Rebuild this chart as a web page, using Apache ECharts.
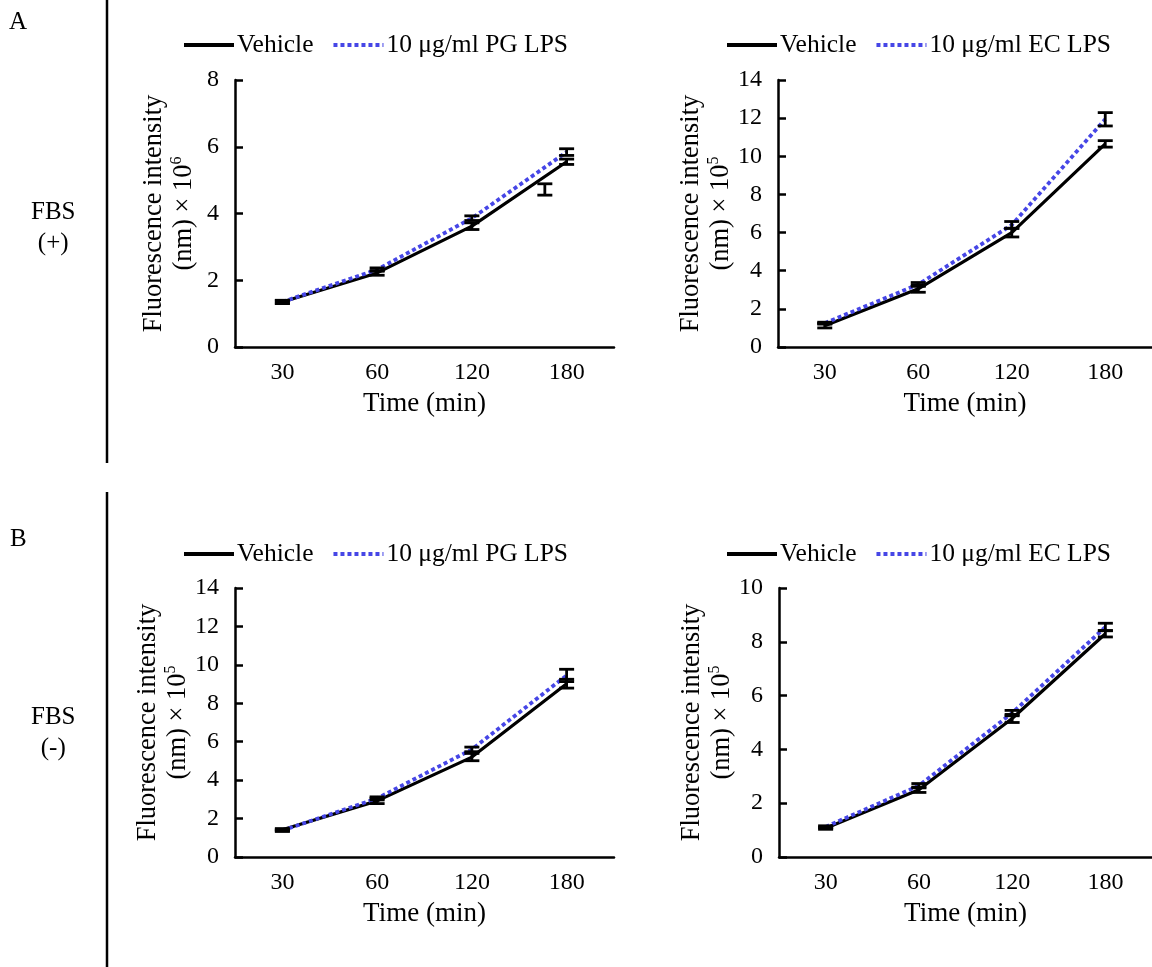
<!DOCTYPE html>
<html>
<head>
<meta charset="utf-8">
<script src="https://cdn.jsdelivr.net/npm/echarts@6/dist/echarts.min.js"></script>
<style>
html,body{margin:0;padding:0;background:#fff;}
#main{width:1152px;height:967px;}
</style>
</head>
<body>
<div id="main"></div>
<script>
// ---- data ----
const categories = ['30', '60', '120', '180'];

// Panel A left: FBS(+), PG LPS, x10^6
const aLeftVehicle = [1.35, 2.22, 3.62, 5.55];
const aLeftVehicleErr = [0.05, 0.07, 0.1, 0.08];
const aLeftPG = [1.35, 2.32, 3.86, 5.84];
const aLeftPGErr = [0.04, 0.05, 0.07, 0.1];
// stray error bar drawn between 120 and 180 in panel A left
const aLeftStray = [{ from: 2, to: 3, frac: 0.77, value: 4.72, err: 0.17 }];

// Panel A right: FBS(+), EC LPS, x10^5
const aRightVehicle = [1.12, 3.05, 6.0, 10.65];
const aRightVehicleErr = [0.12, 0.18, 0.23, 0.17];
const aRightEC = [1.25, 3.28, 6.4, 11.94];
const aRightECErr = [0.05, 0.1, 0.18, 0.35];

// Panel B left: FBS(-), PG LPS, x10^5
const bLeftVehicle = [1.42, 2.92, 5.2, 9.02];
const bLeftVehicleErr = [0.06, 0.14, 0.19, 0.23];
const bLeftPG = [1.38, 3.05, 5.6, 9.45];
const bLeftPGErr = [0.05, 0.08, 0.12, 0.32];

// Panel B right: FBS(-), EC LPS, x10^5
const bRightVehicle = [1.07, 2.5, 5.15, 8.3];
const bRightVehicleErr = [0.04, 0.1, 0.15, 0.12];
const bRightEC = [1.12, 2.65, 5.35, 8.55];
const bRightECErr = [0.04, 0.08, 0.1, 0.14];

const yMax = [8, 14, 14, 10];
const yInterval = [2, 2, 2, 2];
const yExp = ['6', '5', '5', '5'];
const lpsNames = ['10 μg/ml PG LPS', '10 μg/ml EC LPS', '10 μg/ml PG LPS', '10 μg/ml EC LPS'];

// ---- layout ----
const FONT = '"Liberation Serif", "Times New Roman", serif';
const BLUE = '#4646e6';
const grids = [
  { left: 235, top: 80, width: 379, height: 267 },
  { left: 778, top: 80, width: 374, height: 267 },
  { left: 235, top: 588, width: 379, height: 269 },
  { left: 779, top: 588, width: 373, height: 269 }
];
const legendPos = [
  { left: 182, top: 32 },
  { left: 725, top: 32 },
  { left: 182, top: 541 },
  { left: 725, top: 541 }
];

const panels = [
  { veh: aLeftVehicle, vehErr: aLeftVehicleErr, lps: aLeftPG, lpsErr: aLeftPGErr, stray: aLeftStray },
  { veh: aRightVehicle, vehErr: aRightVehicleErr, lps: aRightEC, lpsErr: aRightECErr, stray: [] },
  { veh: bLeftVehicle, vehErr: bLeftVehicleErr, lps: bLeftPG, lpsErr: bLeftPGErr, stray: [] },
  { veh: bRightVehicle, vehErr: bRightVehicleErr, lps: bRightEC, lpsErr: bRightECErr, stray: [] }
];

const ERR_STYLE = { stroke: '#000', lineWidth: 2.8 };
function barShape(cx, y1, y2) {
  const hw = 7.5;
  return {
    type: 'group',
    children: [
      { type: 'line', shape: { x1: cx, y1: y1, x2: cx, y2: y2 }, style: ERR_STYLE },
      { type: 'line', shape: { x1: cx - hw, y1: y1, x2: cx + hw, y2: y1 }, style: ERR_STYLE },
      { type: 'line', shape: { x1: cx - hw, y1: y2, x2: cx + hw, y2: y2 }, style: ERR_STYLE }
    ]
  };
}
function errRender(params, api) {
  const x = api.value(0), v = api.value(1), e = api.value(2);
  const top = api.coord([x, v + e]);
  const bot = api.coord([x, v - e]);
  return barShape(top[0], top[1], bot[1]);
}
function strayRender(params, api) {
  const a = api.value(0), b = api.value(1), f = api.value(2), v = api.value(3), e = api.value(4);
  const pa = api.coord([a, v + e]), pb = api.coord([b, v + e]);
  const qa = api.coord([a, v - e]);
  const cx = pa[0] + (pb[0] - pa[0]) * f;
  return barShape(cx, pa[1], qa[1]);
}

const xAxes = [], yAxes = [], series = [], legends = [];
panels.forEach((p, i) => {
  xAxes.push({
    type: 'category', gridIndex: i, data: categories, boundaryGap: true,
    axisLine: { lineStyle: { color: '#000', width: 2.5 } },
    axisTick: { inside: true, length: 10, lineStyle: { color: '#000', width: 2.5 } },
    axisLabel: { color: '#000', fontSize: 24, fontFamily: FONT, margin: 14 },
    name: 'Time (min)', nameLocation: 'middle', nameGap: 43,
    nameTextStyle: { color: '#000', fontSize: 27, fontFamily: FONT }
  });
  yAxes.push({
    type: 'value', gridIndex: i, min: 0, max: yMax[i], interval: yInterval[i],
    splitLine: { show: false },
    axisLine: { show: true, lineStyle: { color: '#000', width: 2.5 } },
    axisTick: { show: true, inside: true, length: 8, lineStyle: { color: '#000', width: 2.5 } },
    axisLabel: { color: '#000', fontSize: 24, fontFamily: FONT, margin: 16 },
    name: '{a|Fluorescence intensity}\n{a|(nm) × 10}{s|' + yExp[i] + '}',
    nameLocation: 'middle', nameRotate: 90, nameGap: 36,
    nameTextStyle: {
      color: '#000', fontFamily: FONT,
      rich: {
        a: { fontSize: 26.5, lineHeight: 30, fontFamily: FONT, color: '#000' },
        s: { fontSize: 16, lineHeight: 30, fontFamily: FONT, color: '#000', verticalAlign: 'top', padding: [0, 0, 12, 0] }
      }
    }
  });
  series.push({
    name: 'Vehicle', type: 'line', xAxisIndex: i, yAxisIndex: i, data: p.veh,
    symbol: 'none', lineStyle: { color: '#000', width: 3.2 }, itemStyle: { color: '#000' }, z: 2
  });
  series.push({
    name: lpsNames[i], type: 'line', xAxisIndex: i, yAxisIndex: i, data: p.lps,
    symbol: 'none', lineStyle: { color: BLUE, width: 3.8, type: [4, 3] }, itemStyle: { color: BLUE }, z: 3
  });
  series.push({
    type: 'custom', xAxisIndex: i, yAxisIndex: i, renderItem: errRender, z: 4,
    data: p.veh.map((v, k) => [k, v, p.vehErr[k]]).concat(p.lps.map((v, k) => [k, v, p.lpsErr[k]])),
    silent: true
  });
  if (p.stray.length) {
    series.push({
      type: 'custom', xAxisIndex: i, yAxisIndex: i, renderItem: strayRender, z: 4,
      data: p.stray.map(s => [s.from, s.to, s.frac, s.value, s.err]), silent: true
    });
  }
  legends.push({
    left: legendPos[i].left, top: legendPos[i].top, padding: 0,
    data: ['Vehicle', lpsNames[i]],
    itemWidth: 50, itemHeight: 14, itemGap: 18,
    itemStyle: { opacity: 0 },
    lineStyle: { width: 4 },
    textStyle: { color: '#000', fontSize: 25.5, fontFamily: FONT, padding: [0, 0, 0, -2] },
    selectedMode: false
  });
});

const option = {
  backgroundColor: '#fff',
  animation: false,
  textStyle: { fontFamily: FONT },
  grid: grids.map(g => Object.assign({ containLabel: false }, g)),
  xAxis: xAxes,
  yAxis: yAxes,
  legend: legends,
  series: series,
  graphic: [
    { type: 'text', left: 9, top: 10, style: { text: 'A', font: '25px ' + FONT, fill: '#000' } },
    { type: 'text', left: 10, top: 527, style: { text: 'B', font: '25px ' + FONT, fill: '#000' } },
    { type: 'text', left: 31, top: 197, style: { text: 'FBS\n(+)', font: '25px ' + FONT, lineHeight: 31, fill: '#000', align: 'center', textAlign: 'center' } },
    { type: 'text', left: 31, top: 702, style: { text: 'FBS\n(-)', font: '25px ' + FONT, lineHeight: 31, fill: '#000', align: 'center', textAlign: 'center' } },
    { type: 'line', shape: { x1: 107, y1: 0, x2: 107, y2: 463 }, style: { stroke: '#000', lineWidth: 2.5 } },
    { type: 'line', shape: { x1: 107, y1: 492, x2: 107, y2: 967 }, style: { stroke: '#000', lineWidth: 2.5 } }
  ]
};

const chart = echarts.init(document.getElementById('main'), null, { renderer: 'canvas' });
chart.setOption(option);
</script>
</body>
</html>
